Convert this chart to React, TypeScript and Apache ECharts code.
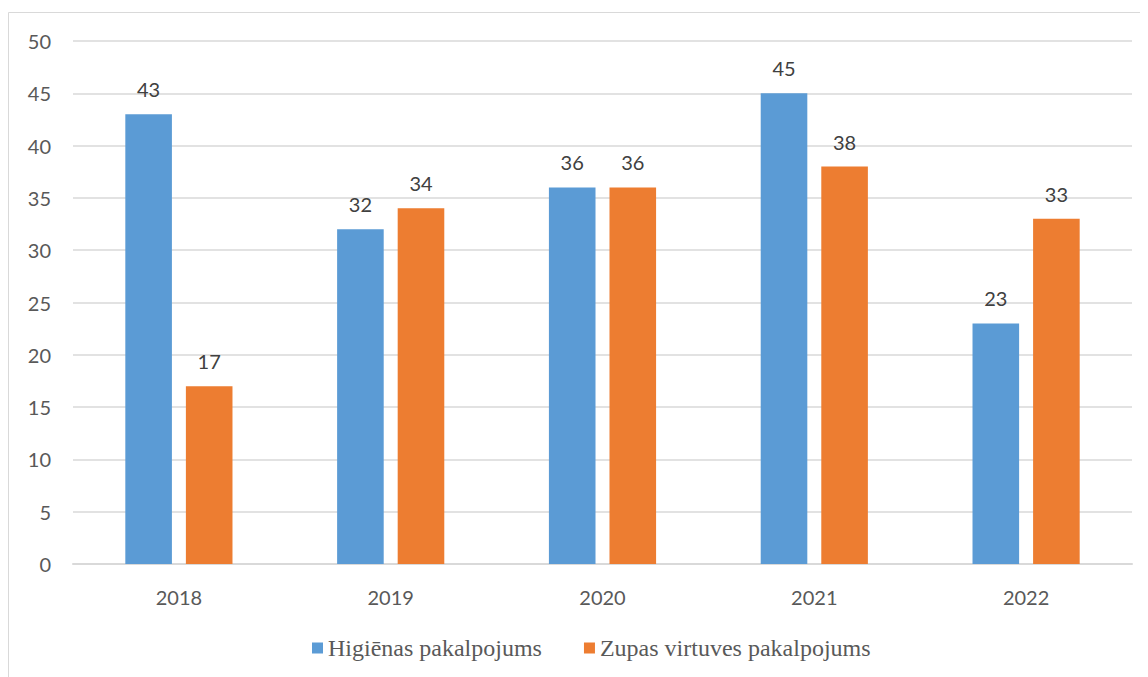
import React, { useEffect, useRef } from "react";
import * as echarts from "echarts";

const categories = ["2018", "2019", "2020", "2021", "2022"];
const higienas = [43, 32, 36, 45, 23];
const zupas = [17, 34, 36, 38, 33];
const seriesNames = ["Higiēnas pakalpojums", "Zupas virtuves pakalpojums"];

export default function App() {
  const ref = useRef<HTMLDivElement>(null);
  useEffect(() => {
    const chart = echarts.init(ref.current!, null, { renderer: "svg" });
    const labelStyle = {
      show: true,
      position: "top" as const,
      distance: 15,
      color: "#404040",
      fontFamily: "Lato",
      fontSize: 20,
    };
    chart.setOption({
      animation: false,
      backgroundColor: "#ffffff",
      graphic: [
        {
          type: "rect",
          shape: { x: 0.5, y: 4.5, width: 1300, height: 1000 },
          style: { fill: "none", stroke: "#d9d9d9", lineWidth: 1 },
          silent: true,
        },
      ],
      grid: { left: 65, right: 16, top: 33, bottom: 113 },
      legend: {
        bottom: 12,
        left: 299,
        itemWidth: 11,
        itemHeight: 11,
        itemGap: 42,
        icon: "rect",
        textStyle: {
          fontFamily: "Times New Roman, Liberation Serif, serif",
          fontSize: 24,
          color: "#595959",
        },
        data: seriesNames,
      },
      xAxis: {
        type: "category",
        data: categories,
        axisLine: { lineStyle: { color: "#d9d9d9", width: 2 } },
        axisTick: { show: false },
        axisLabel: { color: "#595959", fontFamily: "Lato", fontSize: 20, margin: 23 },
      },
      yAxis: {
        type: "value",
        min: 0,
        max: 50,
        interval: 5,
        axisLine: { show: false },
        axisTick: { show: false },
        splitLine: { lineStyle: { color: "#d9d9d9", width: 1.5 } },
        axisLabel: { color: "#595959", fontFamily: "Lato", fontSize: 20, margin: 22 },
      },
      series: [
        {
          name: seriesNames[0],
          type: "bar",
          data: higienas,
          barWidth: "22%",
          barGap: "30%",
          itemStyle: { color: "#5b9bd5" },
          label: labelStyle,
        },
        {
          name: seriesNames[1],
          type: "bar",
          data: zupas,
          barWidth: "22%",
          barGap: "30%",
          itemStyle: { color: "#ed7d31" },
          label: labelStyle,
        },
      ],
    });
    return () => chart.dispose();
  }, []);
  return <div ref={ref} style={{ width: 1140, height: 669 }} />;
}
